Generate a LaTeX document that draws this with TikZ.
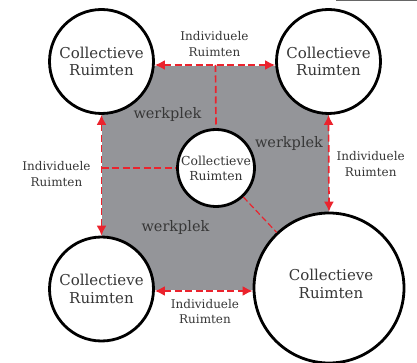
\documentclass[tikz,border=0pt]{standalone}
\usepackage{fontspec}
\setmainfont{DejaVu Serif}
\usetikzlibrary{arrows.meta}
\definecolor{rd}{RGB}{235,35,45}
\definecolor{gr}{RGB}{148,149,153}
\definecolor{tx}{RGB}{55,55,55}
\tikzset{
  circ/.style={circle, draw=black, line width=2.8pt, fill=white, inner sep=0pt, text=tx, align=center},
  big/.style={font=\fontsize{15}{17.5}\selectfont},
  small/.style={font=\fontsize{12.4}{15}\selectfont},
  lab/.style={text=tx, align=center, inner sep=0pt, font=\fontsize{12}{15.7}\selectfont},
  wp/.style={text=tx, inner sep=0pt, anchor=base, font=\fontsize{14.5}{17}\selectfont},
  rarrow/.style={draw=rd, line width=1.7pt, dash pattern=on 7pt off 3.5pt, {Latex[length=10pt,width=10pt]}-{Latex[length=10pt,width=10pt]}},
  rline/.style={draw=rd, line width=1.7pt, dash pattern=on 7pt off 3.5pt},
  rthin/.style={draw=rd, line width=1.2pt, dash pattern=on 6pt off 3pt}
}
\begin{document}
\begin{tikzpicture}[x=1pt,y=-1pt]
\useasboundingbox (0,0) rectangle (417,363);
\fill[gr] (101.5,66) rectangle (329,290);
\draw[gray!80!black, line width=1.5pt] (336,0.75) -- (417,0.75);
\node[circ, big, minimum size=104] (c1) at (101.5,61.5) {Collectieve\\Ruimten};
\node[circ, big, minimum size=104] (c2) at (328.5,61.5) {Collectieve\\Ruimten};
\node[circ, big, minimum size=104] (c3) at (101.5,289) {Collectieve\\Ruimten};
\node[circ, small, minimum size=77] (c4) at (216,168) {Collectieve\\Ruimten};
\node[circ, minimum size=150] (c5) at (329,288) {};
\node[text=tx, align=center, inner sep=0pt, big] (t5) at (331,284) {Collectieve\\Ruimten};
% connectors
\draw[rarrow] ([yshift=-3.5pt]c1.east) -- ([yshift=-3.5pt]c2.west);
\draw[rarrow] (c1.south) -- (c3.north);
\draw[rarrow] (c2.south) -- (c5.north);
\draw[rarrow] ([yshift=-2pt]c3.east) -- ([yshift=-3pt]c5.west);
\coordinate (tm) at (215.5,65);
\coordinate (lm) at (101.5,168);
\draw[rline] (tm) -- (c4.north);
\draw[rline] (lm) -- (c4.west);
\draw[rthin] (c4) -- (c5);
% labels
\node[lab] (l1) at (214.5,44) {Individuele\\Ruimten};
\node[lab] (l2) at (56.5,173.8) {Individuele\\Ruimten};
\node[lab] (l3) at (370.7,164.3) {Individuele\\Ruimten};
\node[lab] (l4) at (205,311.6) {Individuele\\Ruimten};
\node[wp] (w1) at (167.5,118.3) {werkplek};
\node[wp] (w2) at (289,147.3) {werkplek};
\node[wp] (w3) at (175.5,231.7) {werkplek};
\end{tikzpicture}
\end{document}
